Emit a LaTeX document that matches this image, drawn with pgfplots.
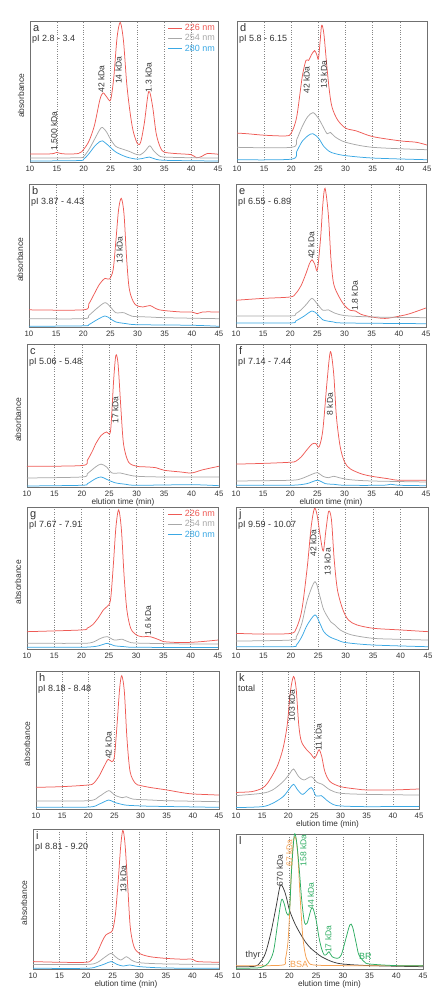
\documentclass[border=0pt]{standalone}
\usepackage{pgfplots}
\pgfplotsset{compat=1.18}
\usepackage{fontspec}
\setmainfont{Liberation Sans}
\definecolor{cR}{HTML}{EE5A55}
\definecolor{cG}{HTML}{A8A8A8}
\definecolor{cB}{HTML}{3AA8E4}
\definecolor{cK}{HTML}{3A3A3A}
\definecolor{cO}{HTML}{F5A050}
\definecolor{cN}{HTML}{2EAD62}
\definecolor{frm}{HTML}{707070}
\definecolor{txt}{HTML}{333333}
\pgfplotsset{
 panel/.style={scale only axis, anchor=north west, xmin=10,xmax=45,ymin=0,ymax=1,
   xtick={10,15,...,45}, ytick=\empty,
   /pgf/number format/assume math mode=true,
   axis line style={draw=frm,line width=0.9pt},
   xmajorgrids, x grid style={dotted, gray!95, line width=0.5pt},
   major tick length=0pt,
   xticklabel style={font=\fontsize{7.8}{8}\selectfont, text=txt, yshift=-1pt},
   every axis y label/.style={at={(axis description cs:0,0.47)}, xshift=-9pt, rotate=90, anchor=center, font=\fontsize{8.5}{9}\selectfont, text=txt},
   every axis x label/.style={at={(axis description cs:0.5,0)}, yshift=-15pt, anchor=center, font=\fontsize{8.2}{9}\selectfont, text=txt},
   every axis plot/.append style={line width=0.75pt, smooth, tension=0.5},
 },
 leg/.style={legend style={at={(axis description cs:1,1)}, anchor=north east, draw=none, fill=none,
   font=\fontsize{9}{10}\selectfont, row sep=-1.5pt, inner sep=1pt, legend cell align=left},
   legend image code/.code={\draw[##1,line width=0.75pt] (0pt,0pt) -- (14pt,0pt);}},
}
\newcommand{\plabel}[2]{%
 \node[anchor=base west, inner sep=0, font=\fontsize{11}{12}\selectfont, text=txt, xshift=3pt, yshift=-10.5pt] at (axis description cs:0,1) {#1};
 \node[anchor=base west, inner sep=0, font=\fontsize{9}{10}\selectfont, text=txt, xshift=2pt, yshift=-20.5pt] at (axis description cs:0,1) {#2};}
\newcommand{\ann}[4][txt]{\node[rotate=90, font=\fontsize{8.5}{9}\selectfont, text=#1, inner sep=0] at (axis cs:#2,#3) {#4};}
\begin{document}
\begin{tikzpicture}
\path[use as bounding box] (0,0) rectangle (439pt,1000pt);
% ---------------- a
\begin{axis}[panel, leg, at={(30pt,979pt)}, width=188pt, height=141pt, ylabel={absorbance}]
\addplot[cR] coordinates {(10,0.056)(14,0.058)(15,0.068)(16,0.058)(19,0.06)(20,0.09)(21,0.15)(22,0.26)(23,0.44)(23.6,0.49)(24.3,0.46)(25,0.44)(25.6,0.60)(26.2,0.88)(26.8,0.99)(27.4,0.86)(28,0.56)(28.6,0.36)(29.2,0.22)(30,0.13)(30.6,0.14)(31.3,0.28)(32.1,0.50)(32.8,0.40)(33.5,0.20)(34.3,0.10)(35,0.07)(37,0.06)(40,0.052)(41,0.03)(42,0.04)(43,0.06)(45,0.055)};
\addlegendentry{\textcolor{cR}{226 nm}}
\addplot[cG] coordinates {(10,0.028)(19,0.03)(20,0.04)(21,0.09)(22,0.16)(23,0.23)(23.5,0.245)(24.3,0.21)(25,0.16)(26,0.11)(27.5,0.088)(28.5,0.075)(29.5,0.058)(30.5,0.05)(31.5,0.08)(32.3,0.115)(33,0.08)(34,0.045)(35,0.035)(40,0.03)(45,0.028)};
\addlegendentry{\textcolor{cG}{254 nm}}
\addplot[cB] coordinates {(10,0.007)(19,0.01)(20,0.02)(21,0.06)(22,0.11)(23,0.145)(23.5,0.15)(24.5,0.12)(26,0.07)(28,0.035)(30,0.02)(31.5,0.03)(32.2,0.035)(33,0.025)(35,0.012)(45,0.007)};
\addlegendentry{\textcolor{cB}{280 nm}}
\plabel{a}{pI 2.8 - 3.4}
\ann{23.3}{0.59}{42 kDa}\ann{26.5}{0.65}{14 kDa}\ann{32.1}{0.60}{1.3 kDa}\ann{14.6}{0.22}{1,500 kDa}
\end{axis}
% ---------------- d
\begin{axis}[panel, at={(237pt,979pt)}, width=190pt, height=141pt]
\addplot[cR] coordinates {(10,0.205)(12,0.20)(15,0.19)(19,0.185)(20,0.205)(21,0.32)(22,0.6)(22.7,0.72)(23.2,0.72)(23.7,0.76)(24.3,0.79)(24.7,0.76)(25,0.73)(25.3,0.85)(25.6,0.97)(26,0.91)(26.5,0.70)(27,0.51)(27.5,0.39)(28.5,0.30)(30,0.24)(32,0.22)(35,0.18)(40,0.15)(43,0.14)(45,0.12)};
\addplot[cG] coordinates {(10,0.104)(20,0.104)(21,0.16)(22,0.25)(23,0.32)(24,0.35)(25,0.31)(26,0.24)(26.6,0.2)(27.2,0.21)(28,0.18)(30,0.14)(35,0.104)(45,0.087)};
\addplot[cB] coordinates {(10,0.016)(20,0.02)(21,0.075)(22,0.146)(23.2,0.19)(24,0.2)(25,0.17)(26,0.11)(27,0.075)(28,0.06)(30,0.045)(35,0.028)(45,0.016)};
\plabel{d}{pI 5.8 - 6.15}
\ann{22.8}{0.58}{42 kDa}\ann{26}{0.62}{13 kDa}
\end{axis}
% ---------------- b
\begin{axis}[panel, at={(29pt,816pt)}, width=190pt, height=143pt, ylabel={absorbance}]
\addplot[cR] coordinates {(10,0.12)(20,0.12)(21,0.16)(22,0.23)(23,0.30)(24,0.34)(24.8,0.335)(25.5,0.40)(26,0.6)(26.5,0.82)(27,0.90)(27.5,0.79)(28,0.47)(28.5,0.26)(29.5,0.16)(31,0.14)(32.3,0.15)(34,0.12)(38,0.105)(40,0.105)(41,0.093)(42,0.105)(45,0.105)};
\addplot[cG] coordinates {(10,0.058)(20,0.058)(21,0.08)(22.5,0.13)(24,0.17)(25,0.14)(26,0.10)(27.5,0.10)(29,0.075)(32,0.07)(35,0.065)(45,0.058)};
\addplot[cB] coordinates {(10,0.005)(20,0.008)(21,0.016)(22.5,0.05)(24,0.077)(25,0.058)(26,0.035)(28,0.023)(30,0.016)(40,0.012)(45,0.005)};
\plabel{b}{pI 3.87 - 4.43}
\ann{26.7}{0.54}{13 kDa}
\end{axis}
% ---------------- e
\begin{axis}[panel, at={(236pt,816pt)}, width=190pt, height=143pt]
\addplot[cR] coordinates {(10,0.187)(15,0.2)(20,0.21)(21,0.234)(22,0.29)(23,0.385)(23.5,0.44)(24,0.47)(24.5,0.44)(25,0.40)(25.6,0.63)(26,0.86)(26.4,0.97)(27,0.79)(27.5,0.47)(28,0.30)(29,0.21)(30,0.15)(31,0.117)(32,0.112)(33,0.089)(35,0.07)(37.5,0.06)(40,0.075)(42,0.093)(45,0.133)};
\addplot[cG] coordinates {(10,0.077)(20,0.077)(21,0.093)(22,0.12)(23,0.16)(24,0.2)(25,0.16)(26,0.117)(27,0.12)(28,0.1)(30,0.08)(35,0.07)(45,0.065)};
\addplot[cB] coordinates {(10,0.028)(20,0.028)(21,0.042)(22.5,0.075)(24,0.112)(25,0.089)(26,0.05)(28,0.035)(30,0.028)(45,0.023)};
\plabel{e}{pI 6.55 - 6.89}
\ann{23.9}{0.57}{42 kDa}\ann{31.9}{0.22}{1.8 kDa}
\end{axis}
% ---------------- c
\begin{axis}[panel, at={(27pt,656pt)}, width=192pt, height=143pt, ylabel={absorbance}, xlabel={elution time (min)}]
\addplot[cR] coordinates {(10,0.145)(20,0.15)(21,0.187)(22,0.257)(22.5,0.30)(23.5,0.36)(24.5,0.385)(25,0.37)(25.3,0.42)(25.8,0.75)(26.2,0.92)(26.6,0.86)(27.1,0.56)(27.6,0.30)(28.5,0.175)(30,0.145)(32,0.14)(33.5,0.135)(35,0.117)(38,0.105)(40,0.098)(42,0.12)(45,0.145)};
\addplot[cG] coordinates {(10,0.063)(20,0.07)(21,0.093)(22.5,0.14)(23.5,0.16)(24.5,0.14)(25.5,0.098)(27,0.098)(28,0.089)(30,0.075)(35,0.07)(45,0.07)};
\addplot[cB] coordinates {(10,0.007)(20,0.012)(21,0.023)(22.5,0.058)(23.5,0.07)(24.5,0.054)(26,0.03)(28,0.019)(30,0.012)(40,0.016)(45,0.009)};
\plabel{c}{pI 5.06 - 5.48}
\ann{26.1}{0.54}{17 kDa}
\end{axis}
% ---------------- f
\begin{axis}[panel, at={(236pt,656pt)}, width=190pt, height=143pt, xlabel={elution time (min)}]
\addplot[cR] coordinates {(10,0.16)(15,0.165)(20,0.173)(21,0.18)(22,0.21)(23,0.257)(24,0.30)(24.7,0.304)(25.3,0.28)(26,0.40)(26.8,0.75)(27.4,0.946)(28,0.79)(28.5,0.49)(29.2,0.28)(30,0.175)(31,0.128)(33,0.093)(35,0.075)(38,0.058)(40,0.047)(45,0.047)};
\addplot[cG] coordinates {(10,0.042)(20,0.047)(22,0.058)(24,0.089)(25,0.1)(26,0.075)(27,0.065)(28,0.075)(29,0.065)(31,0.051)(35,0.042)(45,0.035)};
\addplot[cB] coordinates {(10,0.012)(20,0.012)(23,0.023)(25,0.047)(26.5,0.023)(28,0.019)(30,0.012)(37,0.012)(38.5,0.019)(40,0.012)(45,0.009)};
\plabel{f}{pI 7.14 - 7.44}
\ann{27.3}{0.58}{8 kDa}
\end{axis}
% ---------------- g
\begin{axis}[panel, leg, at={(27pt,493pt)}, width=191pt, height=142pt, ylabel={absorbance}]
\addplot[cR] coordinates {(10,0.122)(20,0.134)(21,0.146)(22,0.17)(23,0.216)(24,0.275)(24.7,0.30)(25.3,0.345)(25.8,0.58)(26.3,0.86)(26.8,0.98)(27.3,0.84)(27.8,0.51)(28.3,0.275)(29,0.146)(30,0.1)(31,0.087)(32.5,0.087)(34,0.068)(35,0.052)(38,0.045)(40,0.047)(42,0.052)(45,0.063)};
\addlegendentry{\textcolor{cR}{226 nm}}
\addplot[cG] coordinates {(10,0.04)(20,0.04)(22,0.047)(23.5,0.075)(24.7,0.087)(26,0.063)(27.5,0.068)(29,0.045)(32,0.04)(40,0.035)(45,0.035)};
\addlegendentry{\textcolor{cG}{254 nm}}
\addplot[cB] coordinates {(10,0.012)(20,0.012)(23,0.021)(24.7,0.04)(26,0.023)(28,0.016)(30,0.012)(45,0.01)};
\addlegendentry{\textcolor{cB}{280 nm}}
\plabel{g}{pI 7.67 - 7.91}
\ann{32.2}{0.20}{1.6 kDa}
\end{axis}
% ---------------- j
\begin{axis}[panel, at={(236pt,493pt)}, width=192pt, height=142pt]
\addplot[cR] coordinates {(10,0.11)(15,0.105)(20,0.11)(21,0.146)(22,0.275)(23,0.58)(23.7,0.86)(24.3,0.99)(24.8,0.94)(25.3,0.81)(25.9,0.69)(26.4,0.84)(26.9,0.97)(27.4,0.91)(27.9,0.63)(28.5,0.415)(29.5,0.275)(30.5,0.204)(32,0.17)(35,0.146)(40,0.134)(45,0.122)};
\addplot[cG] coordinates {(10,0.056)(20,0.063)(21,0.087)(22,0.18)(23,0.345)(24.4,0.474)(25.3,0.37)(26,0.275)(27.3,0.19)(28,0.17)(29,0.134)(31,0.1)(35,0.075)(40,0.068)(45,0.063)};
\addplot[cB] coordinates {(10,0.016)(20,0.016)(21,0.028)(22,0.087)(23,0.17)(24.4,0.24)(25.3,0.18)(26,0.122)(27,0.087)(28.5,0.063)(30,0.045)(35,0.028)(45,0.016)};
\plabel{j}{pI 9.59 - 10.07}
\ann{24.1}{0.745}{42 kDa}\ann{26.7}{0.615}{13 kDa}
\end{axis}
% ---------------- h
\begin{axis}[panel, at={(36pt,329pt)}, width=183pt, height=138pt, ylabel={absorbance}]
\addplot[cR] coordinates {(10,0.157)(15,0.162)(20,0.174)(21,0.186)(22,0.234)(23,0.307)(23.8,0.36)(24.5,0.343)(25,0.38)(25.5,0.61)(26,0.874)(26.4,0.966)(26.9,0.85)(27.4,0.51)(28,0.27)(29,0.186)(30,0.17)(32,0.155)(35,0.138)(38,0.118)(40,0.109)(45,0.101)};
\addplot[cG] coordinates {(10,0.058)(20,0.06)(22,0.089)(23.9,0.133)(25,0.101)(26.5,0.082)(27.3,0.089)(28.5,0.072)(32,0.065)(35,0.06)(45,0.053)};
\addplot[cB] coordinates {(10,0.012)(20,0.014)(22,0.034)(23.9,0.065)(25,0.048)(27,0.029)(29,0.024)(32,0.02)(45,0.012)};
\plabel{h}{pI 8.18 - 8.48}
\ann{23.9}{0.46}{42 kDa}
\end{axis}
% ---------------- k
\begin{axis}[panel, at={(236pt,329pt)}, width=183pt, height=138pt, xlabel={elution time (min)}]
\addplot[cR] coordinates {(10,0.12)(13,0.126)(15,0.15)(16,0.186)(17,0.246)(18,0.32)(19,0.44)(19.8,0.61)(20.4,0.85)(21,0.96)(21.5,0.874)(22,0.61)(22.5,0.49)(23.5,0.43)(24.3,0.40)(25,0.367)(25.5,0.40)(25.9,0.43)(26.4,0.38)(27,0.27)(28,0.198)(30,0.162)(33,0.145)(35,0.138)(40,0.138)(45,0.145)};
\addplot[cG] coordinates {(10,0.097)(15,0.114)(17,0.138)(19,0.198)(20.3,0.258)(21,0.29)(22,0.234)(23,0.21)(24.4,0.234)(25.5,0.193)(26.5,0.179)(28,0.138)(30,0.114)(35,0.106)(45,0.101)};
\addplot[cB] coordinates {(10,0.01)(15,0.017)(17,0.041)(19,0.089)(20.2,0.145)(21,0.179)(21.8,0.138)(22.8,0.106)(24.4,0.155)(25.3,0.094)(26.3,0.097)(27.3,0.065)(28.5,0.034)(30,0.022)(35,0.017)(45,0.019)};
\plabel{k}{total}
\ann{20.7}{0.75}{103 kDa}\ann{25.8}{0.52}{11 kDa}
\end{axis}
% ---------------- i
\begin{axis}[panel, at={(33pt,171pt)}, width=186pt, height=140pt, ylabel={absorbance}, xlabel={elution time (min)}]
\addplot[cR] coordinates {(10,0.053)(15,0.048)(20,0.048)(21,0.064)(22,0.112)(23,0.196)(23.7,0.243)(24.5,0.26)(25,0.28)(25.5,0.387)(26,0.61)(26.5,0.876)(26.9,0.99)(27.3,0.9)(27.8,0.61)(28.3,0.30)(29,0.16)(30,0.112)(32,0.088)(35,0.076)(38,0.07)(40,0.07)(41,0.053)(45,0.048)};
\addplot[cG] coordinates {(10,0.033)(20,0.033)(22,0.045)(23.5,0.084)(24.7,0.112)(25.5,0.088)(26.5,0.064)(27.6,0.088)(28.5,0.064)(30,0.045)(35,0.036)(45,0.033)};
\addplot[cB] coordinates {(10,0.005)(20,0.005)(22,0.017)(23.5,0.036)(24.7,0.053)(25.8,0.033)(27,0.021)(28.2,0.029)(30,0.017)(35,0.007)(45,0.005)};
\plabel{i}{pI 8.81 - 9.20}
\ann{27.0}{0.64}{13 kDa}
\end{axis}
% ---------------- l
\begin{axis}[panel, at={(236pt,166pt)}, width=187pt, height=135pt, xlabel={elution time (min)}]
\addplot[cK] coordinates {(10,0.017)(13.5,0.02)(14.5,0.047)(15.5,0.116)(16.5,0.264)(17.5,0.46)(18.3,0.62)(19,0.585)(19.5,0.52)(20,0.437)(21,0.338)(22,0.264)(23,0.20)(24,0.153)(25,0.121)(26,0.091)(28,0.054)(30,0.037)(35,0.025)(45,0.017)};
\addplot[cO] coordinates {(10,0.025)(18.5,0.028)(19.2,0.067)(19.7,0.19)(20,0.388)(20.4,0.758)(20.8,0.956)(21.2,0.968)(21.6,0.83)(22,0.536)(22.5,0.24)(23,0.104)(23.5,0.054)(24.5,0.03)(30,0.025)(45,0.025)};
\addplot[cN] coordinates {(10,0.005)(14,0.008)(15,0.017)(16,0.042)(17,0.128)(17.8,0.338)(18.5,0.51)(19,0.486)(19.5,0.412)(20,0.425)(20.4,0.733)(20.9,0.99)(21.3,0.956)(21.8,0.758)(22.3,0.51)(22.8,0.35)(23.3,0.338)(24,0.437)(24.4,0.45)(25,0.363)(25.5,0.24)(26,0.153)(26.5,0.104)(27,0.11)(27.4,0.128)(28,0.091)(29,0.079)(29.7,0.104)(30.5,0.215)(31.3,0.326)(31.8,0.314)(32.5,0.19)(33,0.104)(34,0.054)(35,0.037)(40,0.025)(45,0.025)};
\plabel{l}{}
\ann[cK]{18.2}{0.73}{670 kDa}\ann[cO]{20.0}{0.86}{67 kDa}\ann[cN]{22.6}{0.88}{158 kDa}\ann[cN]{24.0}{0.54}{44 kDa}\ann[cN]{27.3}{0.22}{17 kDa}
\node[font=\fontsize{9}{10}\selectfont, text=cK, inner sep=0] at (axis cs:13.2,0.104) {thyr};
\node[font=\fontsize{9}{10}\selectfont, text=cO, inner sep=0] at (axis cs:21.8,0.037) {BSA};
\node[font=\fontsize{9}{10}\selectfont, text=cN, inner sep=0] at (axis cs:34.2,0.09) {BR};
\end{axis}
\end{tikzpicture}
\end{document}
